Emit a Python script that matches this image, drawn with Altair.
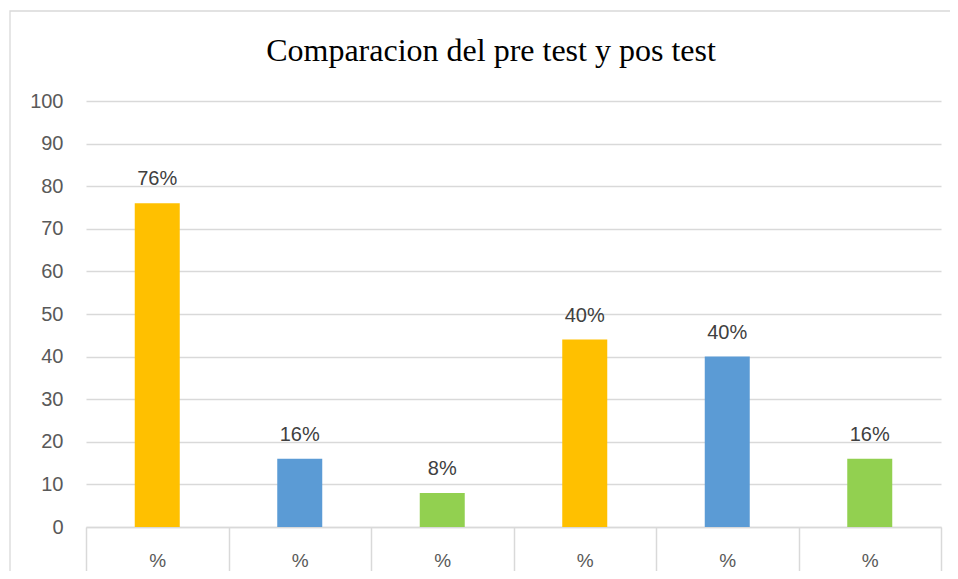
import altair as alt
import pandas as pd

title_text = ["Comparacion del pre test y pos test"]
categories = ["c1", "c2", "c3", "c4", "c5", "c6"]
tick_labels = ["%", "%", "%", "%", "%", "%"]
values = [76, 16, 8, 44, 40, 16]
value_labels = ["76%", "16%", "8%", "40%", "40%", "16%"]
colors = ["#FFC000", "#5B9BD5", "#92D050", "#FFC000", "#5B9BD5", "#92D050"]

df = pd.DataFrame({
    "cat": categories,
    "tick": tick_labels,
    "value": values,
    "label": value_labels,
    "color": colors,
})

label_map = {c: t for c, t in zip(categories, tick_labels)}
label_expr = "{" + ",".join(f"'{c}':'{t}'" for c, t in label_map.items()) + "}[datum.value]"

x_enc = alt.X(
    "cat:N",
    sort=categories,
    title=None,
    scale=alt.Scale(paddingInner=0, paddingOuter=0),
    axis=alt.Axis(
        labelExpr=label_expr,
        labelAngle=0,
        labelFont="Liberation Sans",
        labelFontSize=19,
        labelColor="#595959",
        labelPadding=-24,
        tickBand="extent",
        tickSize=48,
        tickColor="#d9d9d9",
        tickWidth=1.5,
        domainColor="#d9d9d9",
        domainWidth=1.5,
        grid=False,
    ),
)
y_enc = alt.Y(
    "value:Q",
    title=None,
    scale=alt.Scale(domain=[0, 100]),
    axis=alt.Axis(
        values=list(range(0, 101, 10)),
        labelFont="Liberation Sans",
        labelFontSize=20,
        labelColor="#595959",
        labelPadding=23,
        ticks=False,
        domain=False,
        gridColor="#d9d9d9",
        gridWidth=1.3,
    ),
)

bars = alt.Chart(df).mark_bar(size=45).encode(
    x=x_enc,
    y=y_enc,
    color=alt.Color("color:N", scale=None, legend=None),
)

texts = alt.Chart(df).mark_text(
    font="Liberation Sans",
    fontSize=20,
    color="#404040",
    baseline="alphabetic",
    dy=-18,
).encode(
    x=alt.X("cat:N", sort=categories),
    y="value:Q",
    text="label:N",
)

frame_df = pd.DataFrame({"k": [0]})
frame = alt.Chart(frame_df).mark_rect(
    fillOpacity=0, stroke="#d9d9d9", strokeWidth=1.3
).encode(
    x=alt.value(-76), x2=alt.value(900), y=alt.value(-90), y2=alt.value(600)
)

title_df = pd.DataFrame({"t": title_text})
title = alt.Chart(title_df).mark_text(
    font="Liberation Serif",
    fontSize=32,
    color="black",
    align="center",
    baseline="alphabetic",
).encode(
    x=alt.value(405), y=alt.value(-40), text="t:N"
)

chart = alt.layer(frame, bars, texts, title).properties(
    width=855,
    height=426,
    padding={"left": 78, "top": 93, "right": 9, "bottom": 44},
    autosize=alt.AutoSizeParams(type="none"),
).configure(background="white").configure_view(stroke=None)

chart.save("out.html", embed_options={"renderer": "svg", "actions": False})
